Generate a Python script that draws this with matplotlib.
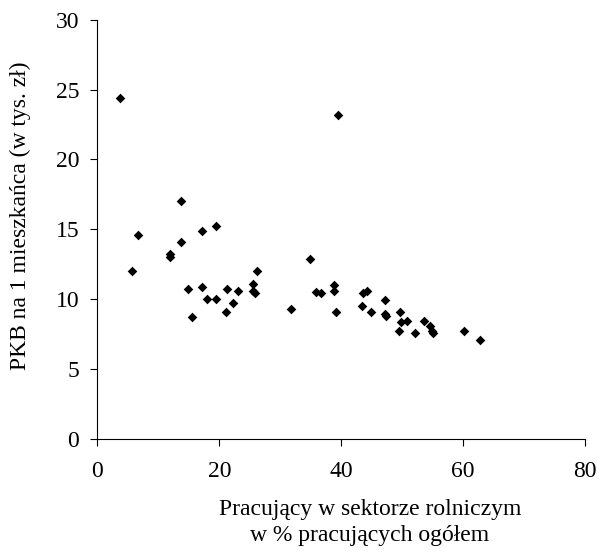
import matplotlib
matplotlib.use("Agg")
import matplotlib.pyplot as plt

# pracujący w rolnictwie (%) i PKB na mieszkańca (tys. zł)
rolnictwo = [3.7, 39.5, 13.7, 6.6, 17.2, 19.5, 13.8, 12.0, 12.0, 5.7, 26.2, 34.9,
             14.9, 15.5, 17.2, 18.0, 19.5, 21.2, 21.1, 22.2, 23.0, 25.5, 25.5, 25.8,
             31.8, 35.8, 36.6, 38.8, 38.8, 39.2, 43.4, 43.6, 44.3, 44.9, 47.2, 47.1,
             47.3, 49.7, 49.8, 50.7, 49.5, 52.1, 53.5, 54.5, 54.8, 55.1, 60.1, 62.7]
pkb = [24.4, 23.2, 17.0, 14.55, 14.9, 15.2, 14.05, 13.2, 13.0, 12.0, 12.04, 12.85,
       10.7, 8.7, 10.85, 10.03, 10.03, 10.7, 9.07, 9.7, 10.6, 11.05, 10.55, 10.4,
       9.3, 10.5, 10.45, 11.0, 10.6, 9.05, 9.5, 10.45, 10.6, 9.1, 9.9, 8.94,
       8.8, 9.05, 8.35, 8.4, 7.7, 7.55, 8.45, 8.1, 7.7, 7.6, 7.7, 7.1]

x_ticks = [0, 20, 40, 60, 80]
y_ticks = [0, 5, 10, 15, 20, 25, 30]

plt.rcParams['font.family'] = ['Liberation Serif', 'DejaVu Serif']

fig = plt.figure(figsize=(5.99, 5.52), dpi=100)
ax = fig.add_axes([0.1624, 0.2053, 0.977 - 0.1624, 0.9643 - 0.2053])

ax.scatter(rolnictwo, pkb, marker='D', s=24, color='black', linewidths=0)

ax.set_xlim(0, 80)
ax.set_ylim(0, 30)
ax.set_xticks(x_ticks)
ax.set_yticks(y_ticks)
ax.tick_params(direction='out', length=5, width=0.8, labelsize=17)
ax.tick_params(axis='x', pad=11)
ax.tick_params(axis='y', pad=8)
ax.spines['top'].set_visible(False)
ax.spines['right'].set_visible(False)
for s in ('left', 'bottom'):
    ax.spines[s].set_linewidth(0.8)

ax.set_xlabel('Pracujący w sektorze rolniczym\nw % pracujących ogółem', fontsize=17,
              linespacing=1.3)
ax.xaxis.set_label_coords(0.559, -0.145)
ax.set_ylabel('PKB na 1 mieszkańca (w tys. zł)', fontsize=17)
ax.yaxis.set_label_coords(-0.135, 0.533)

fig.savefig('out.png', dpi=100)
